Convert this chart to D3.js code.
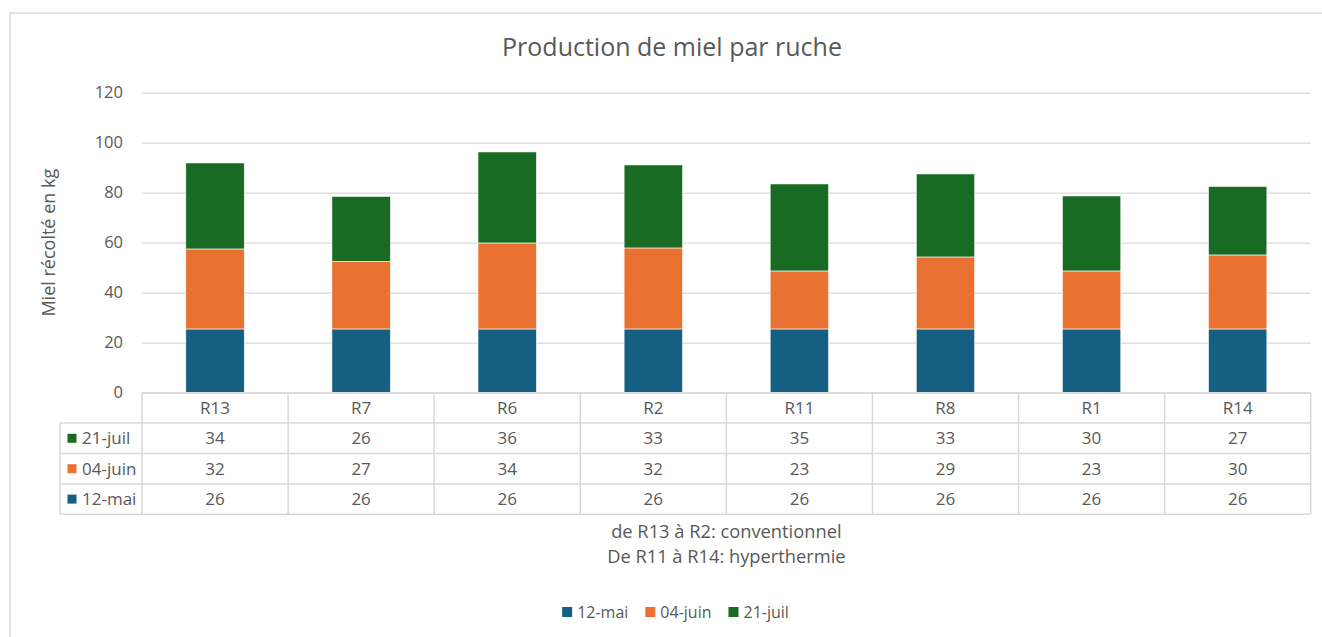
<!DOCTYPE html>
<html>
<head>
<meta charset="utf-8">
<script src="https://cdn.jsdelivr.net/npm/d3@7"></script>
<style>
  body { margin: 0; background: #ffffff; }
  text { font-family: "Open Sans", sans-serif; fill: #595959; }
</style>
</head>
<body>
<div class="vis"></div>
<script>
// data
var hives    = ["R13", "R7", "R6", "R2", "R11", "R8", "R1", "R14"];
var series   = ["12-mai", "04-juin", "21-juil"];
var mai12    = [25.5, 25.5, 25.5, 25.5, 25.5, 25.5, 25.5, 25.5];
var juin04   = [32, 27, 34.4, 32.4, 23.2, 28.8, 23.2, 29.6];
var juil21   = [34.4, 26, 36.4, 33.2, 34.8, 33.2, 30, 27.4];
var yTicks   = [0, 20, 40, 60, 80, 100, 120];
var colors   = {"12-mai": "#156082", "04-juin": "#E97132", "21-juil": "#196B24"};

function draw_honey_chart (divname) {

    var width = 1322, height = 637;
    var left = 142, right = 1310.7, top = 92.7, bottom = 392.7;
    var rowH = 30.4;

    var rows = hives.map(function(h, i) {
        return { hive: h, "12-mai": mai12[i], "04-juin": juin04[i], "21-juil": juil21[i] };
    });

    var svg = d3.select(divname)
                .append('svg')
                .attr('width', width)
                .attr('height', height);

    // chart frame
    svg.append('rect')
       .attr('x', 10).attr('y', 13)
       .attr('width', 1340).attr('height', 640)
       .attr('fill', 'none')
       .attr('stroke', '#d9d9d9')
       .attr('stroke-width', 1.5);

    var x = d3.scaleBand().domain(hives).range([left, right]).paddingInner(0.6).paddingOuter(0.3);
    var y = d3.scaleLinear().domain([0, 120]).range([bottom, top]);

    // title
    svg.append('text')
       .text('Production de miel par ruche')
       .attr('x', 672).attr('y', 56)
       .attr('text-anchor', 'middle')
       .style('font-size', '25px');

    // gridlines + tick labels
    var yAxis = svg.append('g')
                   .attr('transform', 'translate(' + left + ',0)')
                   .call(d3.axisLeft(y).tickValues(yTicks).tickSize(-(right - left)).tickPadding(19));
    yAxis.select('.domain').remove();
    yAxis.selectAll('line').attr('stroke', '#d9d9d9').attr('stroke-width', 1.3);
    yAxis.selectAll('text').style('font-size', '16.5px').style('font-family', '"Open Sans", sans-serif').attr('fill', '#595959');

    // y axis title
    svg.append('text')
       .text('Miel récolté en kg')
       .attr('transform', 'translate(55,' + ((top + bottom) / 2) + ') rotate(-90)')
       .attr('text-anchor', 'middle')
       .style('font-size', '18px');

    // stacked bars
    var stack = d3.stack().keys(series)(rows);
    svg.append('g')
       .selectAll('g')
       .data(stack)
       .enter()
       .append('g')
       .attr('fill', function(d) { return colors[d.key]; })
       .selectAll('rect')
       .data(function(d) { return d; })
       .enter()
       .append('rect')
            .attr('x', function(d) { return x(d.data.hive); })
            .attr('y', function(d) { return y(d[1]); })
            .attr('width', x.bandwidth())
            .attr('height', function(d) { return y(d[0]) - y(d[1]); })
            .attr('stroke', '#ffffff')
            .attr('stroke-width', 0.6);

    // data table under the plot
    var half = (x.step() - x.bandwidth()) / 2;
    var table = svg.append('g').attr('stroke', '#d9d9d9').attr('stroke-width', 1.5);
    var tableBottom = bottom + rowH * 4;

    // horizontal lines
    table.append('line').attr('x1', left).attr('x2', right).attr('y1', bottom).attr('y2', bottom);
    [1, 2, 3, 4].forEach(function(r) {
        table.append('line')
             .attr('x1', 60).attr('x2', right)
             .attr('y1', bottom + r * rowH).attr('y2', bottom + r * rowH);
    });
    // vertical lines
    table.append('line').attr('x1', 60).attr('x2', 60).attr('y1', bottom + rowH).attr('y2', tableBottom);
    hives.forEach(function(h) {
        table.append('line')
             .attr('x1', x(h) - half).attr('x2', x(h) - half)
             .attr('y1', bottom).attr('y2', tableBottom);
    });
    table.append('line').attr('x1', right).attr('x2', right).attr('y1', bottom).attr('y2', tableBottom);

    // header row with hive names
    svg.append('g')
       .selectAll('text')
       .data(hives)
       .enter()
       .append('text')
       .text(function(d) { return d; })
       .attr('x', function(d) { return x(d) + x.bandwidth() / 2; })
       .attr('y', bottom + rowH / 2)
       .attr('dy', '0.35em')
       .attr('text-anchor', 'middle')
       .style('font-size', '17px');

    // value rows (top row is the last series)
    var tableSeries = series.slice().reverse();
    tableSeries.forEach(function(key, r) {
        var ry = bottom + (r + 1) * rowH;

        svg.append('rect')
           .attr('x', 67.5).attr('y', ry + rowH / 2 - 4.5)
           .attr('width', 9).attr('height', 9)
           .attr('fill', colors[key]);

        svg.append('text')
           .text(key)
           .attr('x', 82).attr('y', ry + rowH / 2)
           .attr('dy', '0.35em')
           .style('font-size', '17px');

        svg.append('g')
           .selectAll('text')
           .data(rows)
           .enter()
           .append('text')
           .text(function(d) { return Math.round(d[key]); })
           .attr('x', function(d) { return x(d.hive) + x.bandwidth() / 2; })
           .attr('y', ry + rowH / 2)
           .attr('dy', '0.35em')
           .attr('text-anchor', 'middle')
           .style('font-size', '17px');
    });

    // x axis title (two lines)
    var xTitle = svg.append('text')
                    .attr('text-anchor', 'middle')
                    .style('font-size', '18.3px');
    xTitle.append('tspan').text('de R13 à R2: conventionnel').attr('x', (left + right) / 2).attr('y', 538);
    xTitle.append('tspan').text('De R11 à R14: hyperthermie').attr('x', (left + right) / 2).attr('y', 563);

    // legend at the bottom
    var legend = svg.append('g');
    var lx = 0;
    series.forEach(function(key) {
        var item = legend.append('g').attr('transform', 'translate(' + lx + ',0)');
        item.append('rect')
            .attr('x', 0).attr('y', 607)
            .attr('width', 10).attr('height', 10)
            .attr('fill', colors[key]);
        var t = item.append('text')
                    .text(key)
                    .attr('x', 15).attr('y', 612)
                    .attr('dy', '0.35em')
                    .style('font-size', '16px');
        lx += 15 + t.node().getComputedTextLength() + 17;
    });
    var legendW = lx - 17;
    legend.attr('transform', 'translate(' + (675.5 - legendW / 2) + ',0)');
}

draw_honey_chart('div.vis');
</script>
</body>
</html>
